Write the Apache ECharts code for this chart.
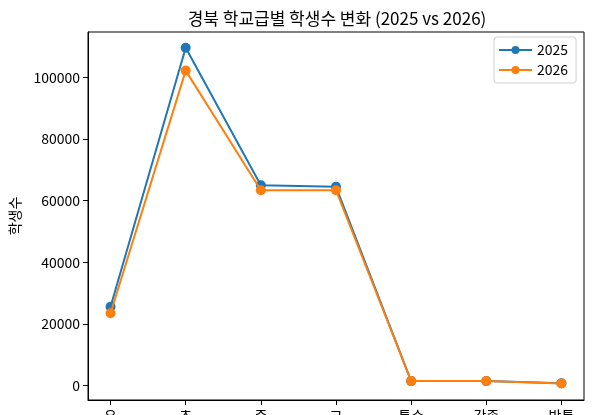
<!DOCTYPE html>
<html>
<head>
<meta charset="utf-8">
<script src="https://cdn.jsdelivr.net/npm/echarts@6/dist/echarts.min.js"></script>
<style>
html,body{margin:0;padding:0;background:#fff;}
#c{width:593px;height:415px;}
</style>
</head>
<body>
<div id="c"></div>
<script>
const categories = ['유', '초', '중', '고', '특수', '각종', '방통'];
const values2025 = [25600, 109600, 65000, 64500, 1500, 1500, 800];
const values2026 = [23500, 102200, 63400, 63400, 1500, 1500, 700];
const yTicks = [0, 20000, 40000, 60000, 80000, 100000];
const seriesNames = ['2025', '2026'];

const FONT = '"Noto Sans CJK KR", "Noto Sans", sans-serif';
const chart = echarts.init(document.getElementById('c'), null, {renderer: 'canvas'});
const toPts = arr => arr.map((v, i) => [i, v]);

chart.setOption({
  animation: false,
  backgroundColor: '#fff',
  textStyle: {fontFamily: FONT},
  title: {
    text: '경북 학교급별 학생수 변화 (2025 vs 2026)',
    left: 332, top: 5, textAlign: 'center',
    textStyle: {fontFamily: FONT, fontSize: 17, fontWeight: 'normal', color: '#000'}
  },
  grid: {left: 88, right: 9, top: 32, bottom: 15, show: true, borderColor: '#000', borderWidth: 1,
         containLabel: false, outerBoundsMode: 'none'},
  legend: {
    orient: 'vertical', left: 494, top: 37,
    padding: [6, 8, 6, 4], itemGap: 6, itemWidth: 33, itemHeight: 10,
    borderColor: '#d0d0d0', borderWidth: 1, borderRadius: 3,
    textStyle: {fontFamily: FONT, fontSize: 14, color: '#000'},
    data: seriesNames
  },
  xAxis: {
    type: 'value', min: -0.3, max: 6.3,
    splitLine: {show: false},
    axisLine: {show: true, onZero: false, lineStyle: {color: '#000'}},
    axisTick: {show: true, length: 5, lineStyle: {color: '#000'}, customValues: categories.map((c, i) => i)},
    axisLabel: {
      color: '#000', fontSize: 14, margin: 9, fontFamily: FONT,
      customValues: categories.map((c, i) => i),
      formatter: v => categories[Math.round(v)]
    }
  },
  yAxis: {
    type: 'value', min: -4625, max: 114725,
    name: '학생수', nameLocation: 'middle', nameGap: 66, nameRotate: 90,
    nameTextStyle: {fontFamily: FONT, fontSize: 14, color: '#000'},
    splitLine: {show: false},
    axisLine: {show: true, onZero: false, lineStyle: {color: '#000'}},
    axisTick: {show: true, length: 5, lineStyle: {color: '#000'}, customValues: yTicks},
    axisLabel: {color: '#000', fontSize: 14, margin: 8, fontFamily: FONT, customValues: yTicks,
                formatter: v => String(v)}
  },
  series: [
    {name: seriesNames[0], type: 'line', data: toPts(values2025), symbol: 'circle', symbolSize: 10,
     color: '#1f77b4', lineStyle: {width: 2}, z: 2},
    {name: seriesNames[1], type: 'line', data: toPts(values2026), symbol: 'circle', symbolSize: 10,
     color: '#ff7f0e', lineStyle: {width: 2}, z: 3}
  ]
});
</script>
</body>
</html>
